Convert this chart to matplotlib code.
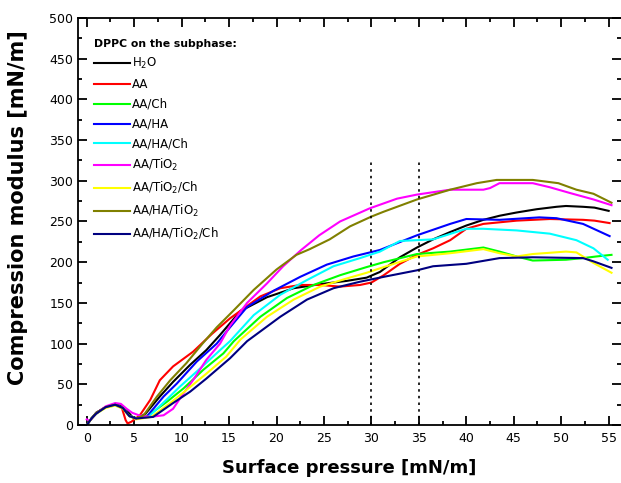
import matplotlib
matplotlib.use("Agg")
import matplotlib.pyplot as plt
from matplotlib.ticker import MultipleLocator

# ---- data ----
h2o_x = [0, 0.5, 1, 2, 3, 3.6, 4.2, 4.8, 5.4, 6.2, 7.7, 9.1, 10.9, 12.6, 14.0, 16.2, 19.0, 21.8, 24.6, 27.4, 29.5, 30.9, 33.0, 34.8, 36.5, 38.3, 40.0, 41.8, 43.5, 45.3, 47.4, 49.5, 50.5, 52.3, 53.5, 55.0]
h2o_y = [0, 8, 15, 22, 25, 24, 18, 10, 8, 14, 35, 53, 74, 92, 110, 140, 157, 168, 173, 177, 181, 188, 206, 218, 228, 237, 245, 252, 257, 261, 265, 268, 269, 268, 267, 263]

aa_x = [0, 0.5, 1, 2, 3, 3.7, 4.1, 4.3, 4.7, 5.6, 6.7, 7.7, 9.1, 11.2, 13.2, 15.1, 18.3, 20.4, 22.5, 24.6, 26.7, 28.8, 30.0, 31.3, 33.0, 34.8, 36.5, 38.3, 40.0, 41.8, 45.3, 48.8, 52.3, 53.5, 55.1]
aa_y = [0, 8, 15, 22, 25, 21, 6, 2, 4, 12, 31, 55, 72, 90, 112, 131, 158, 168, 172, 172, 170, 172, 175, 184, 198, 209, 217, 227, 241, 247, 251, 253, 252, 251, 248]

aach_x = [0, 0.5, 1, 2, 3, 3.8, 4.5, 5.2, 6.5, 8.5, 10.2, 12.3, 14.4, 15.5, 18.3, 21.1, 23.9, 26.7, 29.5, 31.3, 34.8, 38.3, 41.8, 43.5, 45.3, 47.0, 50.5, 52.3, 53.7, 55.3]
aach_y = [0, 8, 14, 22, 25, 21, 11, 8, 12, 29, 45, 68, 88, 103, 133, 156, 172, 184, 194, 200, 210, 213, 218, 213, 207, 202, 203, 205, 207, 209]

aaha_x = [0, 0.5, 1, 2, 3, 3.8, 4.5, 5.2, 6.3, 8.1, 9.5, 11.6, 13.7, 15.1, 16.9, 19.7, 22.5, 25.3, 28.1, 30.9, 34.8, 38.3, 40.0, 43.5, 47.7, 49.5, 52.3, 55.1]
aaha_y = [0, 8, 15, 22, 25, 21, 11, 8, 10, 35, 51, 78, 100, 120, 145, 165, 182, 197, 207, 215, 233, 247, 253, 252, 255, 254, 247, 232]

aahach_x = [0, 0.5, 1, 2, 3, 3.8, 4.5, 5.2, 6.5, 8.4, 9.8, 12.0, 14.05, 15.1, 17.6, 20.4, 23.2, 26.0, 28.8, 30.9, 33.0, 36.5, 40.0, 41.8, 45.3, 48.8, 51.6, 53.4, 54.9]
aahach_y = [0, 8, 14, 22, 24, 21, 11, 8, 10, 31, 47, 70, 92, 103, 135, 160, 178, 195, 205, 213, 226, 228, 241, 241, 239, 235, 227, 217, 203]

aatio2_x = [0, 0.3, 1, 2, 3, 3.6, 4.2, 4.8, 5.5, 6.7, 8.1, 9.1, 10.2, 11.2, 12.6, 14.05, 15.1, 16.9, 19.0, 20.7, 22.6, 24.5, 26.7, 29.8, 32.7, 34.8, 38.3, 41.8, 42.5, 43.5, 45.3, 47.0, 48.8, 50.9, 53.4, 55.3]
aatio2_y = [7, 5, 14, 23, 27, 26, 20, 15, 12, 10, 12, 20, 39, 55, 80, 100, 122, 150, 174, 195, 215, 233, 250, 266, 278, 283, 289, 289, 291, 297, 297, 297, 292, 285, 277, 270]

aatio2ch_x = [0, 0.5, 1, 2, 3, 3.8, 4.5, 5.2, 6.8, 8.8, 10.5, 12.6, 14.7, 16.2, 19.0, 21.8, 24.6, 27.4, 29.5, 31.3, 34.8, 38.3, 41.8, 43.5, 45.3, 47.0, 50.5, 51.6, 53.4, 55.3]
aatio2ch_y = [0, 8, 14, 21, 24, 20, 11, 7, 10, 27, 43, 63, 84, 105, 133, 154, 170, 180, 187, 194, 207, 211, 216, 211, 207, 210, 213, 212, 199, 187]

aahatio2_x = [0, 0.5, 1, 2, 3, 3.8, 4.5, 5.2, 6.0, 7.4, 8.8, 10.5, 12.2, 13.7, 15.5, 17.6, 20.0, 22.1, 23.5, 25.6, 27.75, 30.0, 31.3, 34.8, 38.3, 41.1, 43.2, 47.0, 49.7, 51.6, 53.4, 55.3]
aahatio2_y = [0, 8, 15, 22, 25, 21, 11, 8, 12, 35, 55, 76, 100, 120, 141, 166, 191, 209, 216, 228, 244, 256, 262, 277, 289, 297, 301, 301, 297, 289, 284, 273]

aahatio2ch_x = [0, 0.5, 1, 2, 3, 3.8, 4.5, 5.2, 7.0, 9.1, 10.9, 12.6, 15.1, 16.9, 20.4, 23.2, 26.0, 28.8, 31.3, 34.8, 36.5, 40.0, 43.5, 47.0, 52.3, 53.4, 55.3]
aahatio2ch_y = [0, 8, 14, 22, 25, 21, 11, 8, 10, 27, 41, 57, 82, 103, 133, 154, 168, 176, 182, 190, 195, 198, 205, 206, 205, 201, 193]

labels = ['H$_2$O', 'AA', 'AA/Ch', 'AA/HA', 'AA/HA/Ch', 'AA/TiO$_2$',
          'AA/TiO$_2$/Ch', 'AA/HA/TiO$_2$', 'AA/HA/TiO$_2$/Ch']
colors = ['#000000', '#FF0000', '#00FF00', '#0000FF', '#00FFFF', '#FF00FF',
          '#FFFF00', '#808000', '#000080']
series = [(h2o_x, h2o_y), (aa_x, aa_y), (aach_x, aach_y), (aaha_x, aaha_y),
          (aahach_x, aahach_y), (aatio2_x, aatio2_y), (aatio2ch_x, aatio2ch_y),
          (aahatio2_x, aahatio2_y), (aahatio2ch_x, aahatio2ch_y)]

vlines_x = [30, 35]
vline_top = 325

plt.rcParams['font.family'] = ['DejaVu Sans']

fig = plt.figure(figsize=(6.21, 4.83), dpi=100)
ax = fig.add_axes([0.1256, 0.120, 0.8744, 0.843])

for (x, y), c, lab in zip(series, colors, labels):
    ax.plot(x, y, color=c, lw=1.5, label=lab)

for xv in vlines_x:
    ax.plot([xv, xv], [0, vline_top], color='black', lw=1.2, ls=(0, (1.5, 2.5)))

ax.set_xlim(-0.92, 56.3)
ax.set_ylim(0, 500)
ax.xaxis.set_major_locator(MultipleLocator(5))
ax.xaxis.set_minor_locator(MultipleLocator(2.5))
ax.yaxis.set_major_locator(MultipleLocator(50))
ax.yaxis.set_minor_locator(MultipleLocator(25))
ax.tick_params(which='both', direction='in', top=True, right=True, width=1.3)
ax.tick_params(which='major', length=6.5, labelsize=9)
ax.tick_params(axis='x', which='major', pad=5)
ax.tick_params(which='minor', length=3.2)
for s in ax.spines.values():
    s.set_linewidth(1.3)
ax.spines['right'].set_visible(False)

ax.set_xlabel('Surface pressure [mN/m]', fontsize=13, fontweight='bold', labelpad=10)
ax.set_ylabel('Compression modulus [mN/m]', fontsize=15, fontweight='bold')
ax.yaxis.set_label_coords(-0.092, 0.535)

leg = ax.legend(loc='upper left', bbox_to_anchor=(0.015, 0.968), frameon=False,
                title='DPPC on the subphase:', fontsize=8.5,
                title_fontproperties={'weight': 'bold', 'size': 7.8},
                handlelength=3.0, handletextpad=0.2, labelspacing=0.58,
                alignment='left', borderaxespad=0.3)

fig.savefig('out.png', dpi=100)
